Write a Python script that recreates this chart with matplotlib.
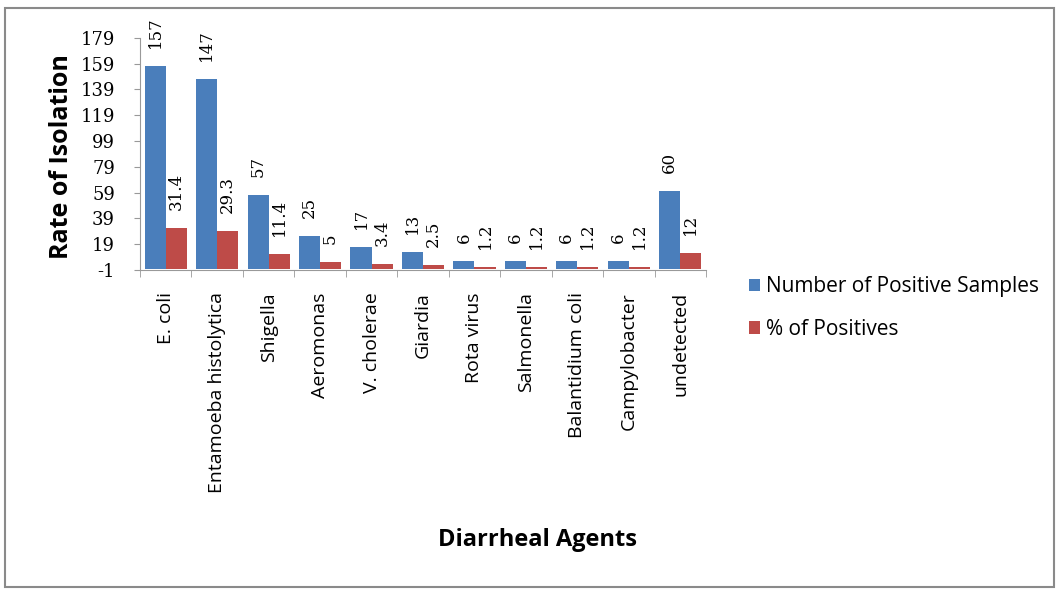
import numpy as np
import matplotlib
matplotlib.use("Agg")
import matplotlib.pyplot as plt
from matplotlib.patches import Rectangle

# Data
agents = ["E. coli", "Entamoeba histolytica", "Shigella", "Aeromonas",
          "V. cholerae", "Giardia", "Rota virus", "Salmonella",
          "Balantidium coli", "Campylobacter", "undetected"]
positives = [157, 147, 57, 25, 17, 13, 6, 6, 6, 6, 60]
percents = [31.4, 29.3, 11.4, 5, 3.4, 2.5, 1.2, 1.2, 1.2, 1.2, 12]
percent_labels = ["31.4", "29.3", "11.4", "5", "3.4", "2.5", "1.2", "1.2", "1.2", "1.2", "12"]
y_ticks = [-1, 19, 39, 59, 79, 99, 119, 139, 159, 179]

blue = "#4A7EBB"
red = "#BE4B48"

fig = plt.figure(figsize=(10.58, 5.92), dpi=100)
ax = fig.add_axes([0.1323, 0.544, 0.535, 0.392])

x = np.arange(len(agents))
w = 0.41
ax.bar(x - w / 2, positives, w, bottom=0, color=blue, label="Number of Positive Samples")
ax.bar(x + w / 2, percents, w, bottom=0, color=red, label="% of Positives")

# value labels above bars, rotated like the original
for xi, v in zip(x, positives):
    ax.annotate(str(v), (xi - w / 2, v), xytext=(0, 13), textcoords="offset points",
                rotation=90, ha="center", va="bottom", fontsize=12, family="DejaVu Serif")
for xi, v, s in zip(x, percents, percent_labels):
    ax.annotate(s, (xi + w / 2, v), xytext=(0, 13), textcoords="offset points",
                rotation=90, ha="center", va="bottom", fontsize=12, family="DejaVu Serif")

ax.set_xlim(-0.5, len(agents) - 0.5)
ax.set_ylim(-1, 179)
ax.set_yticks(y_ticks)
ax.set_yticklabels([str(t) for t in y_ticks], family="DejaVu Serif", fontsize=13)
ax.tick_params(axis="y", length=4, color="#999999", pad=14)

ax.set_xticks(x)
ax.set_xticks(np.arange(len(agents) + 1) - 0.5, minor=True)
ax.tick_params(axis="x", which="major", length=0, pad=16)
ax.tick_params(axis="x", which="minor", length=5, color="#999999")
ax.set_xticklabels(agents, rotation=90, fontsize=14, family="Open Sans", va="top", ha="center")

for side in ["top", "right"]:
    ax.spines[side].set_visible(False)
ax.spines["left"].set_color("#999999")
ax.spines["bottom"].set_color("#999999")

fig.text(0.058, 0.735, "Rate of Isolation", rotation=90, ha="center", va="center",
         fontsize=18, fontweight="bold", family="Open Sans")
fig.text(0.508, 0.088, "Diarrheal Agents", ha="center", va="center",
         fontsize=17, fontweight="bold", family="Open Sans")

ax.legend(loc="upper left", bbox_to_anchor=(0.69, 0.565), bbox_transform=fig.transFigure,
          frameon=False, prop={"family": "Open Sans", "size": 15},
          handlelength=0.55, handleheight=0.55, handletextpad=0.3, labelspacing=1.05)

# outer chart border
fig.patches.append(Rectangle((0.005, 0.008), 0.991, 0.978, transform=fig.transFigure,
                             fill=False, edgecolor="#8a8a8a", linewidth=1.5))

fig.savefig("out.png", dpi=100)
